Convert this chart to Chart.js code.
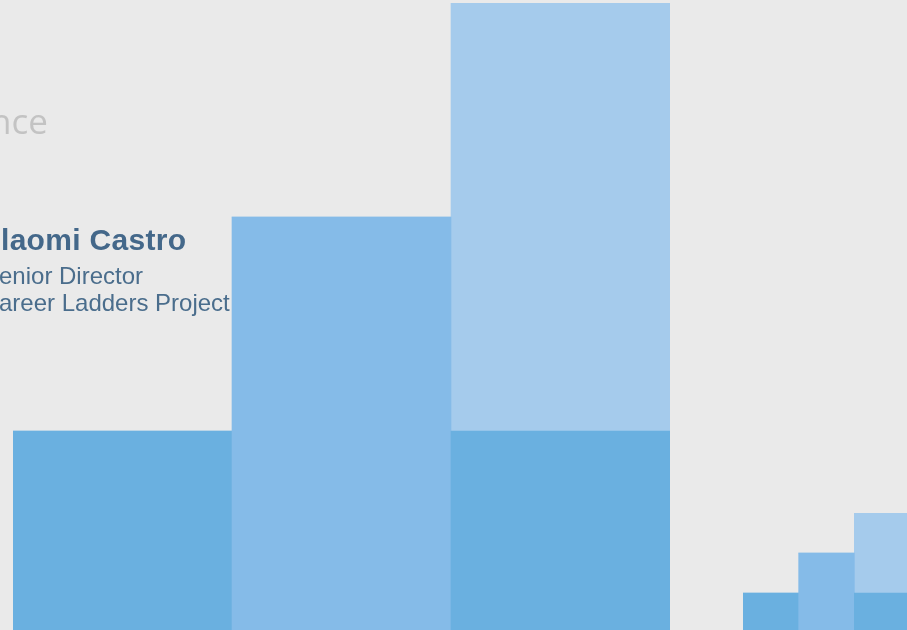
<!DOCTYPE html>
<html>
<head>
<meta charset="utf-8">
<script src="https://cdn.jsdelivr.net/npm/chart.js@4/dist/chart.umd.min.js"></script>
<style>
    html, body {
        margin: 0;
        padding: 0;
        width: 907px;
        height: 630px;
        overflow: hidden;
        background: #eaeaea;
        position: relative;
    }
    .box { position: absolute; }
    #bigBox { left: 13px; top: 3px; width: 657px; height: 642px; }
    #smallBox { left: 743px; top: 513px; width: 167px; height: 120px; }
    .txt {
        position: absolute;
        white-space: nowrap;
        z-index: 5;
    }
    #title {
        font-family: "Open Sans", sans-serif;
        font-size: 35px;
        color: #c3c3c3;
        left: -10px;
        top: 101px;
        line-height: 40px;
    }
    #name {
        font-family: "Liberation Sans", Arial, sans-serif;
        font-weight: bold;
        font-size: 30px;
        letter-spacing: 0.3px;
        color: #44688a;
        left: 1px;
        top: 223px;
        line-height: 34px;
    }
    .sub {
        font-family: "Liberation Sans", Arial, sans-serif;
        font-size: 24px;
        color: #4a6d8c;
        left: -1px;
        line-height: 27px;
    }
    #role { top: 262px; }
    #org { top: 289px; }
</style>
</head>
<body>

<div id="title" class="txt">nce</div>
<div id="name" class="txt">laomi Castro</div>
<div id="role" class="txt sub">enior Director</div>
<div id="org" class="txt sub">areer Ladders Project</div>

<div id="bigBox" class="box"><canvas id="bigChart"></canvas></div>
<div id="smallBox" class="box"><canvas id="smallChart"></canvas></div>

<script>
// step values (each step is one unit, last column is stacked 1 + 2)
const steps = ["1", "2", "3"];
const baseValues = [1, 2, 1];
const topValues = [0, 0, 2];
const yMax = 3;

// colours
const baseColors = ["#6ab0e0", "#85bbe8", "#6ab0e0"];
const topColor = "#a5cbec";

/* =========================================================
   shared stacked step chart
========================================================= */
function drawSteps(canvasId) {
    const canvas = document.getElementById(canvasId);
    if (!canvas) return;

    new Chart(canvas, {
        type: "bar",
        data: {
            labels: steps,
            datasets: [
                {
                    label: "base",
                    data: baseValues,
                    backgroundColor: baseColors,
                    borderWidth: 0,
                    barPercentage: 1,
                    categoryPercentage: 1
                },
                {
                    label: "top",
                    data: topValues,
                    backgroundColor: topColor,
                    borderWidth: 0,
                    barPercentage: 1,
                    categoryPercentage: 1
                }
            ]
        },
        options: {
            responsive: true,
            maintainAspectRatio: false,
            animation: false,
            layout: { padding: 0 },
            plugins: {
                legend: { display: false },
                tooltip: { enabled: false }
            },
            scales: {
                x: { display: false, stacked: true, grid: { display: false } },
                y: { display: false, stacked: true, min: 0, max: yMax, grid: { display: false } }
            }
        }
    });
}

document.addEventListener("DOMContentLoaded", () => {
    drawSteps("bigChart");
    drawSteps("smallChart");
});
</script>
</body>
</html>
